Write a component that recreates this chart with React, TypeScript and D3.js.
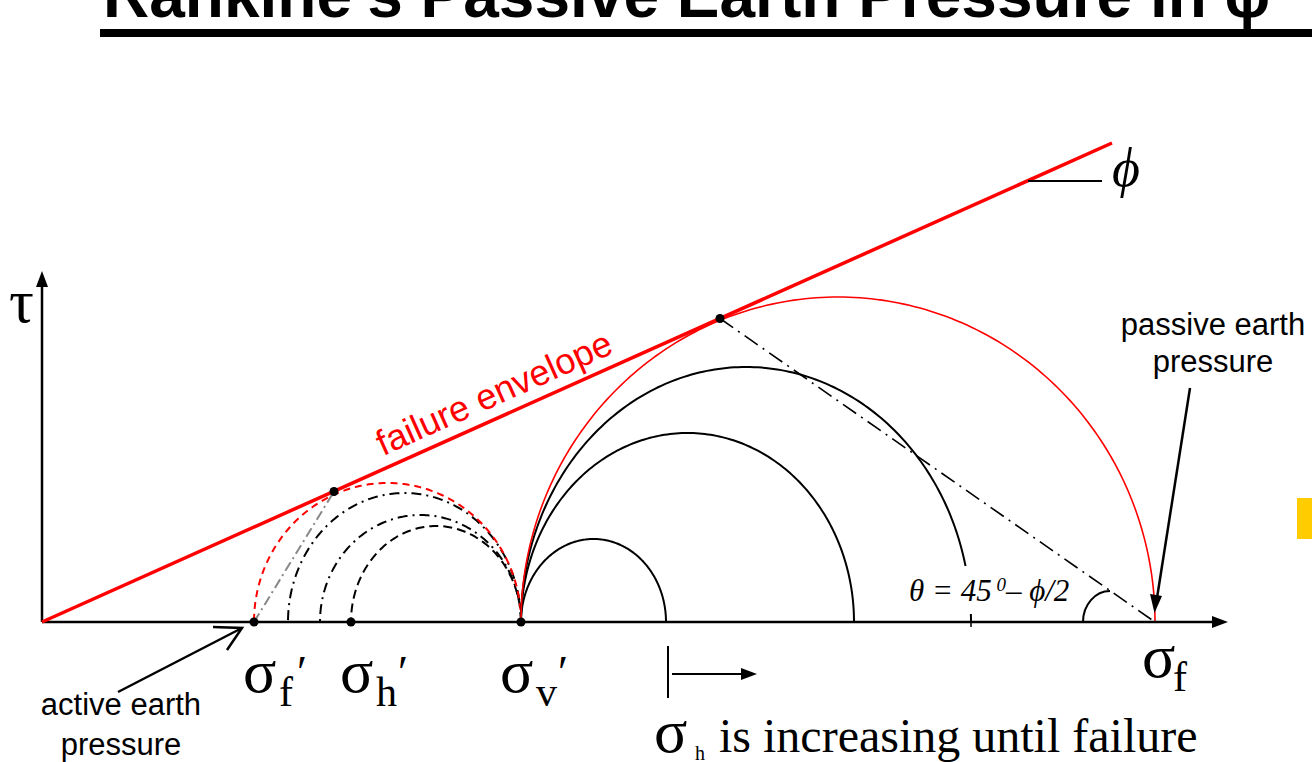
import React from "react";
import * as d3 from "d3";

// ---- data (stress units) ----
const envelopeSigma = [0, 107.0];
const envelopeTau = [0, 47.9];

// passive side Mohr circles (start at σv')
const passiveLow = [47.9, 47.9, 47.9, 47.9];
const passiveHigh = [62.4, 81.2, 92.9, 111.3];
const passivePeak = [8.3, 18.9, 25.5, 32.5];

// active side Mohr circles (end at σv')
const activeLow = [30.9, 27.8, 24.6, 21.2];
const activeHigh = [47.9, 47.9, 47.9, 47.9];
const activePeak = [9.6, 10.7, 12.9, 13.9];

const tangentSigma = [29.2, 67.8];
const tangentTau = [13.05, 30.35];

const axisDotSigma = [21.2, 30.9, 47.9];
const sigmaAxisMax = 118.6;
const tauAxisMax = 35.1;

const sigmaLabels = ["f", "h", "v"];
const sigmaFail = 111.3;

const W = 1312;
const H = 762;

const x = d3.scaleLinear().domain([0, 100]).range([42, 1042]);
const y = d3.scaleLinear().domain([0, 100]).range([622, -378]);

const SERIF = "'Liberation Serif', 'Times New Roman', serif";
const SANS = "'Liberation Sans', Arial, sans-serif";

function arcPath(lo: number, hi: number, peak: number) {
  const c = (lo + hi) / 2;
  const r = (hi - lo) / 2;
  const pts: [number, number][] = d3.range(0, 181).map((d) => {
    const t = (d * Math.PI) / 180;
    return [c + r * Math.cos(t), peak * Math.sin(t)];
  });
  return d3
    .line<[number, number]>()
    .x((p) => x(p[0]))
    .y((p) => y(p[1]))(pts) as string;
}

const passiveStyles = [
  { stroke: "#000", width: 2 },
  { stroke: "#000", width: 2 },
  { stroke: "#000", width: 2 },
  { stroke: "#f00", width: 1.6 },
];
const activeStyles = [
  { stroke: "#000", width: 2, dash: "9 5" },
  { stroke: "#000", width: 2, dash: "10 5 2 5" },
  { stroke: "#000", width: 2, dash: "10 5 2 5" },
  { stroke: "#f00", width: 2, dash: "7 5" },
];

export default function App() {
  const x0 = x(0);
  const y0 = y(0);
  const xEnd = x(sigmaAxisMax);
  const yTop = y(tauAxisMax);
  const slopeDeg =
    (Math.atan2(y(0) - y(envelopeTau[1]), x(envelopeSigma[1]) - x(0)) * 180) /
    Math.PI;
  const envAt = (s: number) => (envelopeTau[1] / envelopeSigma[1]) * s;
  const labelSigma = 34.6;
  const fx = x(sigmaFail);

  return (
    <svg
      width={W}
      height={H}
      style={{ position: "absolute", left: 0, top: 0, background: "#fff" }}
    >
      <rect x={0} y={0} width={W} height={H} fill="#fff" />
      {/* title */}
      <text
        x={103}
        y={17}
        fontFamily={SANS}
        fontWeight="bold"
        fontSize={64}
        fill="#000"
      >
        Rankine's Passive Earth Pressure in φ
      </text>
      <rect x={100} y={29} width={1212} height={8} fill="#000" />

      {/* yellow marker */}
      <rect x={1297} y={498} width={15} height={41} fill="#FFCC00" />

      {/* active circles */}
      {activeLow.map((lo, i) => (
        <path
          key={"a" + i}
          d={arcPath(lo, activeHigh[i], activePeak[i])}
          fill="none"
          stroke={activeStyles[i].stroke}
          strokeWidth={activeStyles[i].width}
          strokeDasharray={activeStyles[i].dash}
        />
      ))}
      {/* passive circles */}
      {passiveLow.map((lo, i) => (
        <path
          key={"p" + i}
          d={arcPath(lo, passiveHigh[i], passivePeak[i])}
          fill="none"
          stroke={passiveStyles[i].stroke}
          strokeWidth={passiveStyles[i].width}
        />
      ))}

      {/* white label box for theta */}
      <rect x={905} y={566} width={172} height={48} fill="#fff" />

      {/* gray line active */}
      <line
        x1={x(axisDotSigma[0])}
        y1={y0}
        x2={x(tangentSigma[0])}
        y2={y(tangentTau[0])}
        stroke="#888"
        strokeWidth={2}
        strokeDasharray="10 4 2 4"
      />
      {/* dash-dot passive failure plane */}
      <line
        x1={x(tangentSigma[1])}
        y1={y(tangentTau[1])}
        x2={fx}
        y2={y0}
        stroke="#000"
        strokeWidth={1.6}
        strokeDasharray="16 6 2 6"
      />

      {/* axes */}
      <line x1={x0} y1={y0} x2={xEnd - 10} y2={y0} stroke="#000" strokeWidth={2.5} />
      <path
        d={`M${xEnd},${y0} L${xEnd - 16},${y0 - 6} L${xEnd - 16},${y0 + 6} Z`}
        fill="#000"
      />
      <line x1={x0} y1={y0} x2={x0} y2={yTop + 10} stroke="#000" strokeWidth={2.5} />
      <path
        d={`M${x0},${yTop} L${x0 - 6},${yTop + 16} L${x0 + 6},${yTop + 16} Z`}
        fill="#000"
      />
      <line x1={971} y1={y0} x2={971} y2={y0 + 5} stroke="#000" strokeWidth={1.5} />

      {/* angle marker */}
      <path
        d={`M${x(104.1)},${y0} A27,31 0 0 1 ${x(106.8)},${y(3.1)}`}
        fill="none"
        stroke="#000"
        strokeWidth={2}
      />

      {/* failure envelope */}
      <line
        x1={x(envelopeSigma[0])}
        y1={y(envelopeTau[0])}
        x2={x(envelopeSigma[1])}
        y2={y(envelopeTau[1])}
        stroke="#f00"
        strokeWidth={3.5}
      />
      <text
        transform={`translate(${x(labelSigma)},${y(envAt(labelSigma))}) rotate(${-slopeDeg})`}
        x={0}
        y={-12}
        fontFamily={SANS}
        fontSize={36}
        fill="#f00"
      >
        failure envelope
      </text>

      {/* phi leader */}
      <line x1={1028} y1={181} x2={1102} y2={181} stroke="#000" strokeWidth={2} />
      <text x={1112} y={186} fontFamily={SERIF} fontStyle="italic" fontSize={54} fill="#000">
        ϕ
      </text>

      {/* tau label */}
      <text x={9} y={322} fontFamily={SERIF} fontSize={62} fill="#000">
        τ
      </text>

      {/* dots */}
      {axisDotSigma.map((s, i) => (
        <circle key={"d" + i} cx={x(s)} cy={y0} r={4.5} fill="#000" />
      ))}
      {tangentSigma.map((s, i) => (
        <circle key={"t" + i} cx={x(s)} cy={y(tangentTau[i])} r={4.5} fill="#000" />
      ))}

      {/* sigma labels under axis */}
      {axisDotSigma.map((s, i) => {
        const off = i === 2 ? -21 : -11;
        const sx = x(s) + off;
        return (
          <g key={"l" + i} fontFamily={SERIF} fill="#000">
            <text x={sx} y={692} fontSize={62}>
              σ
            </text>
            <text x={sx + 36} y={706} fontSize={42}>
              {sigmaLabels[i]}
            </text>
            <text x={sx + (i === 0 ? 54 : 58)} y={688} fontSize={46}>
              ′
            </text>
          </g>
        );
      })}
      <g fontFamily={SERIF} fill="#000">
        <text x={fx - 13} y={677} fontSize={62}>
          σ
        </text>
        <text x={fx + 18} y={691} fontSize={42}>
          f
        </text>
      </g>

      {/* theta label */}
      <text x={909} y={601} fontFamily={SERIF} fontStyle="italic" fontSize={31} fill="#000">
        θ = 45
        <tspan dy={-10} fontSize={19}>
          {" "}0
        </tspan>
        <tspan dy={10}>– ϕ/2</tspan>
      </text>

      {/* increasing arrow */}
      <line x1={668} y1={646} x2={668} y2={698} stroke="#000" strokeWidth={2} />
      <line x1={672} y1={674} x2={744} y2={674} stroke="#000" strokeWidth={2} />
      <path d="M757,674 L741,668 L741,680 Z" fill="#000" />
      <g fontFamily={SERIF} fill="#000">
        <text x={654} y={752} fontSize={62}>
          σ
        </text>
        <text x={695} y={760} fontSize={20}>
          h
        </text>
        <text x={719} y={752} fontSize={48}>
          is increasing until failure
        </text>
      </g>

      {/* passive label */}
      <g fontFamily={SANS} fontSize={31} fill="#000" textAnchor="middle">
        <text x={1213} y={335}>passive earth</text>
        <text x={1213} y={372}>pressure</text>
      </g>
      <line x1={1190} y1={388} x2={1157} y2={598} stroke="#000" strokeWidth={2.5} />
      <path d="M1154.5,613 L1150,594 L1162,596 Z" fill="#000" />

      {/* active label */}
      <g fontFamily={SANS} fontSize={31} fill="#000" textAnchor="middle">
        <text x={121} y={715}>active earth</text>
        <text x={121} y={755}>pressure</text>
      </g>
      <line x1={118} y1={692} x2={242} y2={628} stroke="#000" strokeWidth={2.5} />
      <polyline
        points="213,627 242,628 227,650"
        fill="none"
        stroke="#000"
        strokeWidth={2.5}
      />
    </svg>
  );
}
